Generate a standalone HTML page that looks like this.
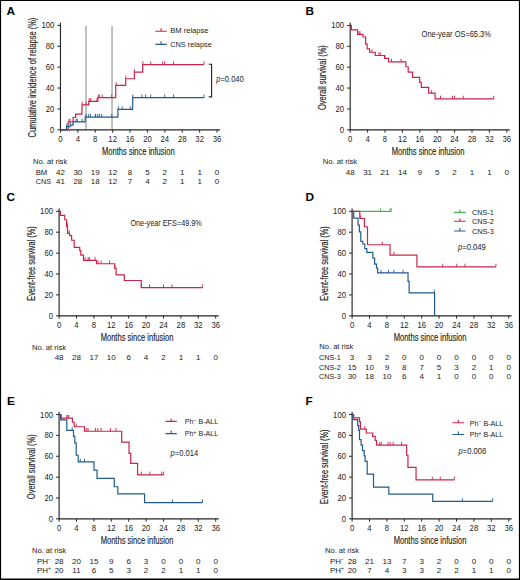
<!DOCTYPE html>
<html><head><meta charset="utf-8"><title>Figure</title>
<style>html,body{margin:0;padding:0;background:#fff;width:520px;height:580px;overflow:hidden;position:relative}</style>
</head><body>
<svg width="520" height="580" viewBox="0 0 520 580" style="position:absolute;left:0;top:0;font-family:'Liberation Sans', sans-serif" fill="#222222">
<rect x="0" y="0" width="520" height="580" fill="#fff"/>
<text x="6.6" y="14.9" font-size="11.8" font-weight="bold" fill="#000">A</text>
<text x="305.6" y="14.75" font-size="11.8" font-weight="bold" fill="#000">B</text>
<text x="6.6" y="200.8" font-size="11.8" font-weight="bold" fill="#000">C</text>
<text x="305.6" y="200.7" font-size="11.8" font-weight="bold" fill="#000">D</text>
<text x="7" y="405" font-size="11.8" font-weight="bold" fill="#000">E</text>
<text x="305.4" y="404.9" font-size="11.8" font-weight="bold" fill="#000">F</text>
<path d="M86.05 25.8V129.5M112.05 25.8V129.5" stroke="#b3b3b3" stroke-width="1.6" fill="none"/>
<path d="M60.45 22.65V129.85H220.05" fill="none" stroke="#262626" stroke-width="1.15"/>
<text x="54.35" y="132.8" font-size="8.5" text-anchor="end" textLength="4.3" lengthAdjust="spacingAndGlyphs">0</text>
<text x="54.35" y="111.9" font-size="8.5" text-anchor="end" textLength="8.6" lengthAdjust="spacingAndGlyphs">20</text>
<text x="54.35" y="91" font-size="8.5" text-anchor="end" textLength="8.6" lengthAdjust="spacingAndGlyphs">40</text>
<text x="54.35" y="70.1" font-size="8.5" text-anchor="end" textLength="8.6" lengthAdjust="spacingAndGlyphs">60</text>
<text x="54.35" y="49.2" font-size="8.5" text-anchor="end" textLength="8.6" lengthAdjust="spacingAndGlyphs">80</text>
<text x="54.35" y="28.3" font-size="8.5" text-anchor="end" textLength="12.9" lengthAdjust="spacingAndGlyphs">100</text>
<text x="60.45" y="142.05" font-size="8.5" text-anchor="middle" textLength="4.3" lengthAdjust="spacingAndGlyphs">0</text>
<text x="77.85" y="142.05" font-size="8.5" text-anchor="middle" textLength="4.3" lengthAdjust="spacingAndGlyphs">4</text>
<text x="95.25" y="142.05" font-size="8.5" text-anchor="middle" textLength="4.3" lengthAdjust="spacingAndGlyphs">8</text>
<text x="112.65" y="142.05" font-size="8.5" text-anchor="middle" textLength="8.6" lengthAdjust="spacingAndGlyphs">12</text>
<text x="130.05" y="142.05" font-size="8.5" text-anchor="middle" textLength="8.6" lengthAdjust="spacingAndGlyphs">16</text>
<text x="147.45" y="142.05" font-size="8.5" text-anchor="middle" textLength="8.6" lengthAdjust="spacingAndGlyphs">20</text>
<text x="164.85" y="142.05" font-size="8.5" text-anchor="middle" textLength="8.6" lengthAdjust="spacingAndGlyphs">24</text>
<text x="182.25" y="142.05" font-size="8.5" text-anchor="middle" textLength="8.6" lengthAdjust="spacingAndGlyphs">28</text>
<text x="199.65" y="142.05" font-size="8.5" text-anchor="middle" textLength="8.6" lengthAdjust="spacingAndGlyphs">32</text>
<text x="217.05" y="142.05" font-size="8.5" text-anchor="middle" textLength="8.6" lengthAdjust="spacingAndGlyphs">36</text>
<path d="M57.35 129.85H60.45M57.35 108.95H60.45M57.35 88.05H60.45M57.35 67.15H60.45M57.35 46.25H60.45M57.35 25.35H60.45M60.45 129.85V132.65M77.85 129.85V132.65M95.25 129.85V132.65M112.65 129.85V132.65M130.05 129.85V132.65M147.45 129.85V132.65M164.85 129.85V132.65M182.25 129.85V132.65M199.65 129.85V132.65M217.05 129.85V132.65" fill="none" stroke="#262626" stroke-width="1"/>
<text x="138.35" y="155.15" font-size="10.2" text-anchor="middle" textLength="72.7" lengthAdjust="spacingAndGlyphs" stroke="#222" stroke-width="0.15">Months since infusion</text>
<text transform="translate(36.25 77.6) rotate(-90)" x="0" y="0" font-size="10" stroke="#222" stroke-width="0.15" text-anchor="middle" textLength="119.8" lengthAdjust="spacingAndGlyphs">Cumulative incidence of relapse (%)</text>
<path d="M60.45 129.85H68.15V122.01H73.06V117.52H75.67V114.17H81.98V104.87H88.72V101.32H97.86V97.66H115.69V85.44H125.7V78.75H134.4V72.17H142.66V64.54H204" fill="none" stroke="#cd2349" stroke-width="1.2" stroke-linejoin="miter"/>
<path d="M68.93 122.01V118.81M70.02 122.01V118.81M75.46 117.52V114.32M82.2 104.87V101.67M85.9 104.87V101.67M89.16 101.32V98.12M90.47 101.32V98.12M96.99 101.32V98.12M98.29 97.66V94.46M99.6 97.66V94.46M102.21 97.66V94.46M111.78 97.66V94.46M116.13 85.44V82.24M125.7 78.75V75.55M134.4 72.17V68.97M142.88 64.54V61.34M150.76 64.54V61.34M162.68 64.54V61.34M164.63 64.54V61.34M173.55 64.54V61.34M204 64.54V61.34" fill="none" stroke="#cd2349" stroke-width="0.9"/>
<path d="M60.45 129.85H66.54V126.71H70.15V125.15H73.06V121.91H85.16V117.1H117.87V109.47H132.66V97.66H204" fill="none" stroke="#235a8f" stroke-width="1.2" stroke-linejoin="miter"/>
<path d="M66.76 126.71V123.51M70.24 125.15V121.95M76.11 121.91V118.71M77.42 121.91V118.71M82.2 121.91V118.71M86.12 117.1V113.9M88.72 117.1V113.9M90.47 117.1V113.9M95.25 117.1V113.9M95.69 117.1V113.9M97.86 117.1V113.9M99.6 117.1V113.9M101.78 117.1V113.9M111.78 117.1V113.9M118.31 109.47V106.27M122.22 109.47V106.27M130.27 109.47V106.27M132.88 97.66V94.46M142.01 97.66V94.46M145.58 97.66V94.46M150.76 97.66V94.46M164.63 97.66V94.46M173.55 97.66V94.46M204 97.66V94.46" fill="none" stroke="#235a8f" stroke-width="0.9"/>
<path d="M155.4 31.25H166.8M161.1 31.25V28.25" fill="none" stroke="#cd2349" stroke-width="1.1"/>
<text x="170.2" y="33.35" font-size="8" textLength="38.4" lengthAdjust="spacingAndGlyphs">BM relapse</text>
<path d="M155.4 44.35H166.8M161.1 44.35V41.35" fill="none" stroke="#235a8f" stroke-width="1.1"/>
<text x="170.2" y="46.85" font-size="8" textLength="41.6" lengthAdjust="spacingAndGlyphs">CNS relapse</text>
<path d="M208.7 64.3H211.6V96.9H208.7" fill="none" stroke="#222" stroke-width="1.1"/>
<text x="216.2" y="82" font-size="8.2" textLength="27.6" lengthAdjust="spacingAndGlyphs"><tspan font-style="italic">p</tspan>=0.040</text>
<text x="33" y="163.6" font-size="8" textLength="34.2" lengthAdjust="spacingAndGlyphs">No. at risk</text>
<text x="35.7" y="174.6" font-size="8" textLength="11.6" lengthAdjust="spacingAndGlyphs">BM</text>
<text x="35.7" y="183.6" font-size="8" textLength="15.3" lengthAdjust="spacingAndGlyphs">CNS</text>
<text x="60.45" y="174.6" font-size="8" text-anchor="middle">42</text>
<text x="77.85" y="174.6" font-size="8" text-anchor="middle">30</text>
<text x="95.25" y="174.6" font-size="8" text-anchor="middle">19</text>
<text x="112.65" y="174.6" font-size="8" text-anchor="middle">12</text>
<text x="130.05" y="174.6" font-size="8" text-anchor="middle">8</text>
<text x="147.45" y="174.6" font-size="8" text-anchor="middle">5</text>
<text x="164.85" y="174.6" font-size="8" text-anchor="middle">2</text>
<text x="182.25" y="174.6" font-size="8" text-anchor="middle">1</text>
<text x="199.65" y="174.6" font-size="8" text-anchor="middle">1</text>
<text x="217.05" y="174.6" font-size="8" text-anchor="middle">0</text>
<text x="60.45" y="183.6" font-size="8" text-anchor="middle">41</text>
<text x="77.85" y="183.6" font-size="8" text-anchor="middle">28</text>
<text x="95.25" y="183.6" font-size="8" text-anchor="middle">18</text>
<text x="112.65" y="183.6" font-size="8" text-anchor="middle">12</text>
<text x="130.05" y="183.6" font-size="8" text-anchor="middle">7</text>
<text x="147.45" y="183.6" font-size="8" text-anchor="middle">4</text>
<text x="164.85" y="183.6" font-size="8" text-anchor="middle">2</text>
<text x="182.25" y="183.6" font-size="8" text-anchor="middle">1</text>
<text x="199.65" y="183.6" font-size="8" text-anchor="middle">1</text>
<text x="217.05" y="183.6" font-size="8" text-anchor="middle">0</text>
<path d="M350.2 22.7V129.85H509.8" fill="none" stroke="#262626" stroke-width="1.15"/>
<text x="344.1" y="132.8" font-size="8.5" text-anchor="end" textLength="4.3" lengthAdjust="spacingAndGlyphs">0</text>
<text x="344.1" y="111.91" font-size="8.5" text-anchor="end" textLength="8.6" lengthAdjust="spacingAndGlyphs">20</text>
<text x="344.1" y="91.02" font-size="8.5" text-anchor="end" textLength="8.6" lengthAdjust="spacingAndGlyphs">40</text>
<text x="344.1" y="70.13" font-size="8.5" text-anchor="end" textLength="8.6" lengthAdjust="spacingAndGlyphs">60</text>
<text x="344.1" y="49.24" font-size="8.5" text-anchor="end" textLength="8.6" lengthAdjust="spacingAndGlyphs">80</text>
<text x="344.1" y="28.35" font-size="8.5" text-anchor="end" textLength="12.9" lengthAdjust="spacingAndGlyphs">100</text>
<text x="350.2" y="142.05" font-size="8.5" text-anchor="middle" textLength="4.3" lengthAdjust="spacingAndGlyphs">0</text>
<text x="367.6" y="142.05" font-size="8.5" text-anchor="middle" textLength="4.3" lengthAdjust="spacingAndGlyphs">4</text>
<text x="385" y="142.05" font-size="8.5" text-anchor="middle" textLength="4.3" lengthAdjust="spacingAndGlyphs">8</text>
<text x="402.4" y="142.05" font-size="8.5" text-anchor="middle" textLength="8.6" lengthAdjust="spacingAndGlyphs">12</text>
<text x="419.8" y="142.05" font-size="8.5" text-anchor="middle" textLength="8.6" lengthAdjust="spacingAndGlyphs">16</text>
<text x="437.2" y="142.05" font-size="8.5" text-anchor="middle" textLength="8.6" lengthAdjust="spacingAndGlyphs">20</text>
<text x="454.6" y="142.05" font-size="8.5" text-anchor="middle" textLength="8.6" lengthAdjust="spacingAndGlyphs">24</text>
<text x="472" y="142.05" font-size="8.5" text-anchor="middle" textLength="8.6" lengthAdjust="spacingAndGlyphs">28</text>
<text x="489.4" y="142.05" font-size="8.5" text-anchor="middle" textLength="8.6" lengthAdjust="spacingAndGlyphs">32</text>
<text x="506.8" y="142.05" font-size="8.5" text-anchor="middle" textLength="8.6" lengthAdjust="spacingAndGlyphs">36</text>
<path d="M347.1 129.85H350.2M347.1 108.96H350.2M347.1 88.07H350.2M347.1 67.18H350.2M347.1 46.29H350.2M347.1 25.4H350.2M350.2 129.85V132.65M367.6 129.85V132.65M385 129.85V132.65M402.4 129.85V132.65M419.8 129.85V132.65M437.2 129.85V132.65M454.6 129.85V132.65M472 129.85V132.65M489.4 129.85V132.65M506.8 129.85V132.65" fill="none" stroke="#262626" stroke-width="1"/>
<text x="428.1" y="155.15" font-size="10.2" text-anchor="middle" textLength="72.7" lengthAdjust="spacingAndGlyphs" stroke="#222" stroke-width="0.15">Months since infusion</text>
<text transform="translate(326 77.62) rotate(-90)" x="0" y="0" font-size="10" stroke="#222" stroke-width="0.15" text-anchor="middle" textLength="64.9" lengthAdjust="spacingAndGlyphs">Overall survival (%)</text>
<path d="M350.2 25.4H351.37V29.79H357.55V34.38H362.95V36.99H365.64V44.1H367.16V48.9H369.56V52.24H375.26V55.48H384.48V58.41H388.57V61.96H405.88V66.76H408.19V72.09H412.58V77.31H419.71V82.43H421.28V87.44H428.59V93.19H435.11V98.93H493.75" fill="none" stroke="#cd2349" stroke-width="1.2" stroke-linejoin="miter"/>
<path d="M358.9 34.38V31.18M359.99 34.38V31.18M371.95 52.24V49.04M378.91 55.48V52.28M380.21 55.48V52.28M385 58.41V55.21M391.52 61.96V58.76M401.09 61.96V58.76M431.33 93.19V89.99M440.51 98.93V95.73M452.42 98.93V95.73M454.51 98.93V95.73M463.3 98.93V95.73M493.75 98.93V95.73" fill="none" stroke="#cd2349" stroke-width="0.9"/>
<text x="421.6" y="37.3" font-size="8.2" textLength="69.2" lengthAdjust="spacingAndGlyphs">One-year OS=65.3%</text>
<text x="322.8" y="163.7" font-size="8" textLength="34.2" lengthAdjust="spacingAndGlyphs">No. at risk</text>
<text x="350.2" y="174.8" font-size="8" text-anchor="middle">48</text>
<text x="367.6" y="174.8" font-size="8" text-anchor="middle">31</text>
<text x="385" y="174.8" font-size="8" text-anchor="middle">21</text>
<text x="402.4" y="174.8" font-size="8" text-anchor="middle">14</text>
<text x="419.8" y="174.8" font-size="8" text-anchor="middle">9</text>
<text x="437.2" y="174.8" font-size="8" text-anchor="middle">5</text>
<text x="454.6" y="174.8" font-size="8" text-anchor="middle">2</text>
<text x="472" y="174.8" font-size="8" text-anchor="middle">1</text>
<text x="489.4" y="174.8" font-size="8" text-anchor="middle">1</text>
<text x="506.8" y="174.8" font-size="8" text-anchor="middle">0</text>
<path d="M59.1 208.6V315.8H218.7" fill="none" stroke="#262626" stroke-width="1.15"/>
<text x="53" y="318.75" font-size="8.5" text-anchor="end" textLength="4.3" lengthAdjust="spacingAndGlyphs">0</text>
<text x="53" y="297.85" font-size="8.5" text-anchor="end" textLength="8.6" lengthAdjust="spacingAndGlyphs">20</text>
<text x="53" y="276.95" font-size="8.5" text-anchor="end" textLength="8.6" lengthAdjust="spacingAndGlyphs">40</text>
<text x="53" y="256.05" font-size="8.5" text-anchor="end" textLength="8.6" lengthAdjust="spacingAndGlyphs">60</text>
<text x="53" y="235.15" font-size="8.5" text-anchor="end" textLength="8.6" lengthAdjust="spacingAndGlyphs">80</text>
<text x="53" y="214.25" font-size="8.5" text-anchor="end" textLength="12.9" lengthAdjust="spacingAndGlyphs">100</text>
<text x="59.1" y="328" font-size="8.5" text-anchor="middle" textLength="4.3" lengthAdjust="spacingAndGlyphs">0</text>
<text x="76.5" y="328" font-size="8.5" text-anchor="middle" textLength="4.3" lengthAdjust="spacingAndGlyphs">4</text>
<text x="93.9" y="328" font-size="8.5" text-anchor="middle" textLength="4.3" lengthAdjust="spacingAndGlyphs">8</text>
<text x="111.3" y="328" font-size="8.5" text-anchor="middle" textLength="8.6" lengthAdjust="spacingAndGlyphs">12</text>
<text x="128.7" y="328" font-size="8.5" text-anchor="middle" textLength="8.6" lengthAdjust="spacingAndGlyphs">16</text>
<text x="146.1" y="328" font-size="8.5" text-anchor="middle" textLength="8.6" lengthAdjust="spacingAndGlyphs">20</text>
<text x="163.5" y="328" font-size="8.5" text-anchor="middle" textLength="8.6" lengthAdjust="spacingAndGlyphs">24</text>
<text x="180.9" y="328" font-size="8.5" text-anchor="middle" textLength="8.6" lengthAdjust="spacingAndGlyphs">28</text>
<text x="198.3" y="328" font-size="8.5" text-anchor="middle" textLength="8.6" lengthAdjust="spacingAndGlyphs">32</text>
<text x="215.7" y="328" font-size="8.5" text-anchor="middle" textLength="8.6" lengthAdjust="spacingAndGlyphs">36</text>
<path d="M56 315.8H59.1M56 294.9H59.1M56 274H59.1M56 253.1H59.1M56 232.2H59.1M56 211.3H59.1M59.1 315.8V318.6M76.5 315.8V318.6M93.9 315.8V318.6M111.3 315.8V318.6M128.7 315.8V318.6M146.1 315.8V318.6M163.5 315.8V318.6M180.9 315.8V318.6M198.3 315.8V318.6M215.7 315.8V318.6" fill="none" stroke="#262626" stroke-width="1"/>
<text x="137" y="341.1" font-size="10.2" text-anchor="middle" textLength="72.7" lengthAdjust="spacingAndGlyphs" stroke="#222" stroke-width="0.15">Months since infusion</text>
<text transform="translate(34.9 263.55) rotate(-90)" x="0" y="0" font-size="10" stroke="#222" stroke-width="0.15" text-anchor="middle" textLength="74.4" lengthAdjust="spacingAndGlyphs">Event-free survival (%)</text>
<path d="M59.1 211.3H60.41V215.38H64.71V219.76H66.63V226.35H67.5V233.35H69.63V235.65H71.63V240.25H74.19V247.46H79.72V250.59H80.81V255.19H83.5V260.42H96.51V263.76H114.74V268.46H116.08V274.94H124.26V280.48H141.31V287.59H202.65" fill="none" stroke="#cd2349" stroke-width="1.2" stroke-linejoin="miter"/>
<path d="M67.36 226.35V223.15M69.11 233.35V230.15M85.11 260.42V257.22M88.11 260.42V257.22M89.55 260.42V257.22M95.12 260.42V257.22M98.12 263.76V260.56M101.12 263.76V260.56M109.56 263.76V260.56M114.78 268.46V265.26M141.31 287.59V284.39M149.58 287.59V284.39M163.5 287.59V284.39M171.98 287.59V284.39M202.65 287.59V284.39" fill="none" stroke="#cd2349" stroke-width="0.9"/>
<text x="130.4" y="225.5" font-size="8.2" textLength="71.4" lengthAdjust="spacingAndGlyphs">One-year EFS=49.9%</text>
<text x="32" y="349.6" font-size="8" textLength="34" lengthAdjust="spacingAndGlyphs">No. at risk</text>
<text x="59.1" y="360.4" font-size="8" text-anchor="middle">48</text>
<text x="76.5" y="360.4" font-size="8" text-anchor="middle">28</text>
<text x="93.9" y="360.4" font-size="8" text-anchor="middle">17</text>
<text x="111.3" y="360.4" font-size="8" text-anchor="middle">10</text>
<text x="128.7" y="360.4" font-size="8" text-anchor="middle">6</text>
<text x="146.1" y="360.4" font-size="8" text-anchor="middle">4</text>
<text x="163.5" y="360.4" font-size="8" text-anchor="middle">2</text>
<text x="180.9" y="360.4" font-size="8" text-anchor="middle">1</text>
<text x="198.3" y="360.4" font-size="8" text-anchor="middle">1</text>
<text x="215.7" y="360.4" font-size="8" text-anchor="middle">0</text>
<path d="M352.1 208.6V315.8H511.7" fill="none" stroke="#262626" stroke-width="1.15"/>
<text x="346" y="318.75" font-size="8.5" text-anchor="end" textLength="4.3" lengthAdjust="spacingAndGlyphs">0</text>
<text x="346" y="297.85" font-size="8.5" text-anchor="end" textLength="8.6" lengthAdjust="spacingAndGlyphs">20</text>
<text x="346" y="276.95" font-size="8.5" text-anchor="end" textLength="8.6" lengthAdjust="spacingAndGlyphs">40</text>
<text x="346" y="256.05" font-size="8.5" text-anchor="end" textLength="8.6" lengthAdjust="spacingAndGlyphs">60</text>
<text x="346" y="235.15" font-size="8.5" text-anchor="end" textLength="8.6" lengthAdjust="spacingAndGlyphs">80</text>
<text x="346" y="214.25" font-size="8.5" text-anchor="end" textLength="12.9" lengthAdjust="spacingAndGlyphs">100</text>
<text x="352.1" y="328" font-size="8.5" text-anchor="middle" textLength="4.3" lengthAdjust="spacingAndGlyphs">0</text>
<text x="369.5" y="328" font-size="8.5" text-anchor="middle" textLength="4.3" lengthAdjust="spacingAndGlyphs">4</text>
<text x="386.9" y="328" font-size="8.5" text-anchor="middle" textLength="4.3" lengthAdjust="spacingAndGlyphs">8</text>
<text x="404.3" y="328" font-size="8.5" text-anchor="middle" textLength="8.6" lengthAdjust="spacingAndGlyphs">12</text>
<text x="421.7" y="328" font-size="8.5" text-anchor="middle" textLength="8.6" lengthAdjust="spacingAndGlyphs">16</text>
<text x="439.1" y="328" font-size="8.5" text-anchor="middle" textLength="8.6" lengthAdjust="spacingAndGlyphs">20</text>
<text x="456.5" y="328" font-size="8.5" text-anchor="middle" textLength="8.6" lengthAdjust="spacingAndGlyphs">24</text>
<text x="473.9" y="328" font-size="8.5" text-anchor="middle" textLength="8.6" lengthAdjust="spacingAndGlyphs">28</text>
<text x="491.3" y="328" font-size="8.5" text-anchor="middle" textLength="8.6" lengthAdjust="spacingAndGlyphs">32</text>
<text x="508.7" y="328" font-size="8.5" text-anchor="middle" textLength="8.6" lengthAdjust="spacingAndGlyphs">36</text>
<path d="M349 315.8H352.1M349 294.9H352.1M349 274H352.1M349 253.1H352.1M349 232.2H352.1M349 211.3H352.1M352.1 315.8V318.6M369.5 315.8V318.6M386.9 315.8V318.6M404.3 315.8V318.6M421.7 315.8V318.6M439.1 315.8V318.6M456.5 315.8V318.6M473.9 315.8V318.6M491.3 315.8V318.6M508.7 315.8V318.6" fill="none" stroke="#262626" stroke-width="1"/>
<text x="430" y="341.1" font-size="10.2" text-anchor="middle" textLength="72.7" lengthAdjust="spacingAndGlyphs" stroke="#222" stroke-width="0.15">Months since infusion</text>
<text transform="translate(327.9 263.55) rotate(-90)" x="0" y="0" font-size="10" stroke="#222" stroke-width="0.15" text-anchor="middle" textLength="74.4" lengthAdjust="spacingAndGlyphs">Event-free survival (%)</text>
<path d="M352.1 211.3H391.25" fill="none" stroke="#3eb84c" stroke-width="1.2" stroke-linejoin="miter"/>
<path d="M380.38 211.3V208.1M390.16 211.3V208.1M391.25 211.3V208.1" fill="none" stroke="#3eb84c" stroke-width="0.9"/>
<path d="M352.1 211.3H359.8V218.51H364.41V226.77H367.5V244.74H390.03V255.09H416.92V266.89H495.91" fill="none" stroke="#cd2349" stroke-width="1.2" stroke-linejoin="miter"/>
<path d="M360.8 218.51V215.31M382.33 244.74V241.54M393.86 255.09V251.89M442.75 266.89V263.69M456.76 266.89V263.69M464.98 266.89V263.69M495.91 266.89V263.69" fill="none" stroke="#cd2349" stroke-width="0.9"/>
<path d="M352.1 211.3H353.71V218.2H358.1V225.2H359.41V231.89H360.8V241.29H362.8V244.01H364.8V248.71H366.8V252.37H372.89V258.22H374.63V264.18H376.5V268.25H377.63V272.96H408.04V281.31H409.09V292.91H434.58V315.8H434.58" fill="none" stroke="#235a8f" stroke-width="1.2" stroke-linejoin="miter"/>
<path d="M381.03 272.96V269.76M388.42 272.96V269.76M393.86 272.96V269.76M403 272.96V269.76M434.31 292.91V289.71" fill="none" stroke="#235a8f" stroke-width="0.9"/>
<path d="M454.1 212.4H465.6M459.85 212.4V209.4" fill="none" stroke="#3eb84c" stroke-width="1.1"/>
<text x="471.9" y="215.1" font-size="7.7" textLength="21.9" lengthAdjust="spacingAndGlyphs">CNS-1</text>
<path d="M454.1 221.3H465.6M459.85 221.3V218.3" fill="none" stroke="#cd2349" stroke-width="1.1"/>
<text x="471.9" y="224" font-size="7.7" textLength="21.9" lengthAdjust="spacingAndGlyphs">CNS-2</text>
<path d="M454.1 231H465.6M459.85 231V228" fill="none" stroke="#235a8f" stroke-width="1.1"/>
<text x="471.9" y="233.7" font-size="7.7" textLength="21.9" lengthAdjust="spacingAndGlyphs">CNS-3</text>
<text x="457.9" y="250.3" font-size="8.2" textLength="28" lengthAdjust="spacingAndGlyphs"><tspan font-style="italic">p</tspan>=0.049</text>
<text x="319.3" y="349.4" font-size="8" textLength="34" lengthAdjust="spacingAndGlyphs">No. at risk</text>
<text x="319.1" y="360.2" font-size="8" textLength="21.6" lengthAdjust="spacingAndGlyphs">CNS-1</text>
<text x="352.1" y="360.2" font-size="8" text-anchor="middle">3</text>
<text x="369.5" y="360.2" font-size="8" text-anchor="middle">3</text>
<text x="386.9" y="360.2" font-size="8" text-anchor="middle">2</text>
<text x="404.3" y="360.2" font-size="8" text-anchor="middle">0</text>
<text x="421.7" y="360.2" font-size="8" text-anchor="middle">0</text>
<text x="439.1" y="360.2" font-size="8" text-anchor="middle">0</text>
<text x="456.5" y="360.2" font-size="8" text-anchor="middle">0</text>
<text x="473.9" y="360.2" font-size="8" text-anchor="middle">0</text>
<text x="491.3" y="360.2" font-size="8" text-anchor="middle">0</text>
<text x="508.7" y="360.2" font-size="8" text-anchor="middle">0</text>
<text x="319.1" y="369.7" font-size="8" textLength="21.6" lengthAdjust="spacingAndGlyphs">CNS-2</text>
<text x="352.1" y="369.7" font-size="8" text-anchor="middle">15</text>
<text x="369.5" y="369.7" font-size="8" text-anchor="middle">10</text>
<text x="386.9" y="369.7" font-size="8" text-anchor="middle">9</text>
<text x="404.3" y="369.7" font-size="8" text-anchor="middle">8</text>
<text x="421.7" y="369.7" font-size="8" text-anchor="middle">7</text>
<text x="439.1" y="369.7" font-size="8" text-anchor="middle">5</text>
<text x="456.5" y="369.7" font-size="8" text-anchor="middle">3</text>
<text x="473.9" y="369.7" font-size="8" text-anchor="middle">2</text>
<text x="491.3" y="369.7" font-size="8" text-anchor="middle">1</text>
<text x="508.7" y="369.7" font-size="8" text-anchor="middle">0</text>
<text x="319.1" y="379.2" font-size="8" textLength="21.6" lengthAdjust="spacingAndGlyphs">CNS-3</text>
<text x="352.1" y="379.2" font-size="8" text-anchor="middle">30</text>
<text x="369.5" y="379.2" font-size="8" text-anchor="middle">18</text>
<text x="386.9" y="379.2" font-size="8" text-anchor="middle">10</text>
<text x="404.3" y="379.2" font-size="8" text-anchor="middle">6</text>
<text x="421.7" y="379.2" font-size="8" text-anchor="middle">4</text>
<text x="439.1" y="379.2" font-size="8" text-anchor="middle">1</text>
<text x="456.5" y="379.2" font-size="8" text-anchor="middle">0</text>
<text x="473.9" y="379.2" font-size="8" text-anchor="middle">0</text>
<text x="491.3" y="379.2" font-size="8" text-anchor="middle">0</text>
<text x="508.7" y="379.2" font-size="8" text-anchor="middle">0</text>
<path d="M59.1 411.85V518.85H218.7" fill="none" stroke="#262626" stroke-width="1.15"/>
<text x="53" y="521.8" font-size="8.5" text-anchor="end" textLength="4.3" lengthAdjust="spacingAndGlyphs">0</text>
<text x="53" y="500.94" font-size="8.5" text-anchor="end" textLength="8.6" lengthAdjust="spacingAndGlyphs">20</text>
<text x="53" y="480.08" font-size="8.5" text-anchor="end" textLength="8.6" lengthAdjust="spacingAndGlyphs">40</text>
<text x="53" y="459.22" font-size="8.5" text-anchor="end" textLength="8.6" lengthAdjust="spacingAndGlyphs">60</text>
<text x="53" y="438.36" font-size="8.5" text-anchor="end" textLength="8.6" lengthAdjust="spacingAndGlyphs">80</text>
<text x="53" y="417.5" font-size="8.5" text-anchor="end" textLength="12.9" lengthAdjust="spacingAndGlyphs">100</text>
<text x="59.1" y="531.05" font-size="8.5" text-anchor="middle" textLength="4.3" lengthAdjust="spacingAndGlyphs">0</text>
<text x="76.5" y="531.05" font-size="8.5" text-anchor="middle" textLength="4.3" lengthAdjust="spacingAndGlyphs">4</text>
<text x="93.9" y="531.05" font-size="8.5" text-anchor="middle" textLength="4.3" lengthAdjust="spacingAndGlyphs">8</text>
<text x="111.3" y="531.05" font-size="8.5" text-anchor="middle" textLength="8.6" lengthAdjust="spacingAndGlyphs">12</text>
<text x="128.7" y="531.05" font-size="8.5" text-anchor="middle" textLength="8.6" lengthAdjust="spacingAndGlyphs">16</text>
<text x="146.1" y="531.05" font-size="8.5" text-anchor="middle" textLength="8.6" lengthAdjust="spacingAndGlyphs">20</text>
<text x="163.5" y="531.05" font-size="8.5" text-anchor="middle" textLength="8.6" lengthAdjust="spacingAndGlyphs">24</text>
<text x="180.9" y="531.05" font-size="8.5" text-anchor="middle" textLength="8.6" lengthAdjust="spacingAndGlyphs">28</text>
<text x="198.3" y="531.05" font-size="8.5" text-anchor="middle" textLength="8.6" lengthAdjust="spacingAndGlyphs">32</text>
<text x="215.7" y="531.05" font-size="8.5" text-anchor="middle" textLength="8.6" lengthAdjust="spacingAndGlyphs">36</text>
<path d="M56 518.85H59.1M56 497.99H59.1M56 477.13H59.1M56 456.27H59.1M56 435.41H59.1M56 414.55H59.1M59.1 518.85V521.65M76.5 518.85V521.65M93.9 518.85V521.65M111.3 518.85V521.65M128.7 518.85V521.65M146.1 518.85V521.65M163.5 518.85V521.65M180.9 518.85V521.65M198.3 518.85V521.65M215.7 518.85V521.65" fill="none" stroke="#262626" stroke-width="1"/>
<text x="137" y="544.15" font-size="10.2" text-anchor="middle" textLength="72.7" lengthAdjust="spacingAndGlyphs" stroke="#222" stroke-width="0.15">Months since infusion</text>
<text transform="translate(34.9 466.7) rotate(-90)" x="0" y="0" font-size="10" stroke="#222" stroke-width="0.15" text-anchor="middle" textLength="64.9" lengthAdjust="spacingAndGlyphs">Overall survival (%)</text>
<path d="M59.1 414.55H61.1V418.2H72.41V422.27H74.19V426.75H84.5V431.24H121.65V442.19H129.05V453.35H130.74V463.47H137.57V474.84H163.59" fill="none" stroke="#cd2349" stroke-width="1.2" stroke-linejoin="miter"/>
<path d="M66.8 418.2V415M67.8 418.2V415M68.8 418.2V415M76.2 426.75V423.55M86.33 431.24V428.04M88.03 431.24V428.04M95.42 431.24V428.04M97.73 431.24V428.04M101.12 431.24V428.04M110.43 431.24V428.04M115.95 431.24V428.04M141.31 474.84V471.64M149.88 474.84V471.64M161.76 474.84V471.64M163.59 474.84V471.64" fill="none" stroke="#cd2349" stroke-width="0.9"/>
<path d="M59.1 414.55H60.71V419.97H66.8V430.3H73.5V436.45H74.8V442.82H76.2V455.23H78.2V461.9H94.03V470.04H97.03V478.28H114.26V486.73H117.82V493.92H144.58V502.58H202.52" fill="none" stroke="#235a8f" stroke-width="1.2" stroke-linejoin="miter"/>
<path d="M72.15 430.3V427.1M80.24 461.9V458.7M84.5 461.9V458.7M172.46 502.58V499.38M202.52 502.58V499.38" fill="none" stroke="#235a8f" stroke-width="0.9"/>
<path d="M165.5 421.4H176.8M171.15 421.4V418.4" fill="none" stroke="#cd2349" stroke-width="1.1"/>
<text x="184.7" y="424.1" font-size="7.4" textLength="33.4" lengthAdjust="spacingAndGlyphs">Ph<tspan font-size="5.6" dy="-2.4">−</tspan><tspan dy="2.4"> B-ALL</tspan></text>
<path d="M165.5 433.6H176.8M171.15 433.6V430.6" fill="none" stroke="#235a8f" stroke-width="1.1"/>
<text x="184.7" y="436.3" font-size="7.4" textLength="33.4" lengthAdjust="spacingAndGlyphs">Ph<tspan font-size="5.6" dy="-2.4">+</tspan><tspan dy="2.4"> B-ALL</tspan></text>
<text x="170.6" y="455.85" font-size="8.2" textLength="27.6" lengthAdjust="spacingAndGlyphs"><tspan font-style="italic">p</tspan>=0.014</text>
<text x="32" y="552.6" font-size="8" textLength="34" lengthAdjust="spacingAndGlyphs">No. at risk</text>
<text x="36.9" y="563.5" font-size="8">PH<tspan font-size="5" dy="-2.9">−</tspan></text>
<text x="59.1" y="563.5" font-size="8" text-anchor="middle">28</text>
<text x="76.5" y="563.5" font-size="8" text-anchor="middle">20</text>
<text x="93.9" y="563.5" font-size="8" text-anchor="middle">15</text>
<text x="111.3" y="563.5" font-size="8" text-anchor="middle">9</text>
<text x="128.7" y="563.5" font-size="8" text-anchor="middle">6</text>
<text x="146.1" y="563.5" font-size="8" text-anchor="middle">3</text>
<text x="163.5" y="563.5" font-size="8" text-anchor="middle">0</text>
<text x="180.9" y="563.5" font-size="8" text-anchor="middle">0</text>
<text x="198.3" y="563.5" font-size="8" text-anchor="middle">0</text>
<text x="215.7" y="563.5" font-size="8" text-anchor="middle">0</text>
<text x="36.9" y="573" font-size="8">PH<tspan font-size="5" dy="-2.9">+</tspan></text>
<text x="59.1" y="573" font-size="8" text-anchor="middle">20</text>
<text x="76.5" y="573" font-size="8" text-anchor="middle">11</text>
<text x="93.9" y="573" font-size="8" text-anchor="middle">6</text>
<text x="111.3" y="573" font-size="8" text-anchor="middle">5</text>
<text x="128.7" y="573" font-size="8" text-anchor="middle">3</text>
<text x="146.1" y="573" font-size="8" text-anchor="middle">2</text>
<text x="163.5" y="573" font-size="8" text-anchor="middle">2</text>
<text x="180.9" y="573" font-size="8" text-anchor="middle">1</text>
<text x="198.3" y="573" font-size="8" text-anchor="middle">1</text>
<text x="215.7" y="573" font-size="8" text-anchor="middle">0</text>
<path d="M352.1 411.85V518.85H511.7" fill="none" stroke="#262626" stroke-width="1.15"/>
<text x="346" y="521.8" font-size="8.5" text-anchor="end" textLength="4.3" lengthAdjust="spacingAndGlyphs">0</text>
<text x="346" y="500.94" font-size="8.5" text-anchor="end" textLength="8.6" lengthAdjust="spacingAndGlyphs">20</text>
<text x="346" y="480.08" font-size="8.5" text-anchor="end" textLength="8.6" lengthAdjust="spacingAndGlyphs">40</text>
<text x="346" y="459.22" font-size="8.5" text-anchor="end" textLength="8.6" lengthAdjust="spacingAndGlyphs">60</text>
<text x="346" y="438.36" font-size="8.5" text-anchor="end" textLength="8.6" lengthAdjust="spacingAndGlyphs">80</text>
<text x="346" y="417.5" font-size="8.5" text-anchor="end" textLength="12.9" lengthAdjust="spacingAndGlyphs">100</text>
<text x="352.1" y="531.05" font-size="8.5" text-anchor="middle" textLength="4.3" lengthAdjust="spacingAndGlyphs">0</text>
<text x="369.5" y="531.05" font-size="8.5" text-anchor="middle" textLength="4.3" lengthAdjust="spacingAndGlyphs">4</text>
<text x="386.9" y="531.05" font-size="8.5" text-anchor="middle" textLength="4.3" lengthAdjust="spacingAndGlyphs">8</text>
<text x="404.3" y="531.05" font-size="8.5" text-anchor="middle" textLength="8.6" lengthAdjust="spacingAndGlyphs">12</text>
<text x="421.7" y="531.05" font-size="8.5" text-anchor="middle" textLength="8.6" lengthAdjust="spacingAndGlyphs">16</text>
<text x="439.1" y="531.05" font-size="8.5" text-anchor="middle" textLength="8.6" lengthAdjust="spacingAndGlyphs">20</text>
<text x="456.5" y="531.05" font-size="8.5" text-anchor="middle" textLength="8.6" lengthAdjust="spacingAndGlyphs">24</text>
<text x="473.9" y="531.05" font-size="8.5" text-anchor="middle" textLength="8.6" lengthAdjust="spacingAndGlyphs">28</text>
<text x="491.3" y="531.05" font-size="8.5" text-anchor="middle" textLength="8.6" lengthAdjust="spacingAndGlyphs">32</text>
<text x="508.7" y="531.05" font-size="8.5" text-anchor="middle" textLength="8.6" lengthAdjust="spacingAndGlyphs">36</text>
<path d="M349 518.85H352.1M349 497.99H352.1M349 477.13H352.1M349 456.27H352.1M349 435.41H352.1M349 414.55H352.1M352.1 518.85V521.65M369.5 518.85V521.65M386.9 518.85V521.65M404.3 518.85V521.65M421.7 518.85V521.65M439.1 518.85V521.65M456.5 518.85V521.65M473.9 518.85V521.65M491.3 518.85V521.65M508.7 518.85V521.65" fill="none" stroke="#262626" stroke-width="1"/>
<text x="430" y="544.15" font-size="10.2" text-anchor="middle" textLength="72.7" lengthAdjust="spacingAndGlyphs" stroke="#222" stroke-width="0.15">Months since infusion</text>
<text transform="translate(327.9 466.7) rotate(-90)" x="0" y="0" font-size="10" stroke="#222" stroke-width="0.15" text-anchor="middle" textLength="74.4" lengthAdjust="spacingAndGlyphs">Event-free survival (%)</text>
<path d="M352.1 414.55H353.71V417.89H359.5V421.64H360.41V429.05H366.19V433.01H372.63V436.45H375.2V440.42H376.63V445.11H406.65V455.23H407.95V467.33H416.05V479.84H454.33" fill="none" stroke="#cd2349" stroke-width="1.2" stroke-linejoin="miter"/>
<path d="M364.89 429.05V425.85M372.63 436.45V433.25M379.72 445.11V441.91M381.25 445.11V441.91M388.03 445.11V441.91M390.08 445.11V441.91M393.12 445.11V441.91M401.56 445.11V441.91M432.27 479.84V476.64M440.27 479.84V476.64M454.33 479.84V476.64" fill="none" stroke="#cd2349" stroke-width="0.9"/>
<path d="M352.1 414.55H352.97V419.56H357.71V425.61H358.71V430.3H359.5V439.69H361.1V445.11H362.5V450.53H364.19V455.85H365.15V461.28H367.19V474.11H373.5V487.14H388.81V494.13H432.75V501.43H492.61" fill="none" stroke="#235a8f" stroke-width="1.2" stroke-linejoin="miter"/>
<path d="M462.37 501.43V498.23M492.61 501.43V498.23" fill="none" stroke="#235a8f" stroke-width="0.9"/>
<path d="M452.4 422.8H464.2M458.3 422.8V419.8" fill="none" stroke="#cd2349" stroke-width="1.1"/>
<text x="469.7" y="425.5" font-size="7.4" textLength="33.4" lengthAdjust="spacingAndGlyphs">Ph<tspan font-size="5.6" dy="-2.4">−</tspan><tspan dy="2.4"> B-ALL</tspan></text>
<path d="M452.4 434.5H464.2M458.3 434.5V431.5" fill="none" stroke="#235a8f" stroke-width="1.1"/>
<text x="469.7" y="437.2" font-size="7.4" textLength="33.4" lengthAdjust="spacingAndGlyphs">Ph<tspan font-size="5.6" dy="-2.4">+</tspan><tspan dy="2.4"> B-ALL</tspan></text>
<text x="458.6" y="453.85" font-size="8.2" textLength="27.6" lengthAdjust="spacingAndGlyphs"><tspan font-style="italic">p</tspan>=0.008</text>
<text x="325" y="552.6" font-size="8" textLength="34" lengthAdjust="spacingAndGlyphs">No. at risk</text>
<text x="329.9" y="563.5" font-size="8">PH<tspan font-size="5" dy="-2.9">−</tspan></text>
<text x="352.1" y="563.5" font-size="8" text-anchor="middle">28</text>
<text x="369.5" y="563.5" font-size="8" text-anchor="middle">21</text>
<text x="386.9" y="563.5" font-size="8" text-anchor="middle">13</text>
<text x="404.3" y="563.5" font-size="8" text-anchor="middle">7</text>
<text x="421.7" y="563.5" font-size="8" text-anchor="middle">3</text>
<text x="439.1" y="563.5" font-size="8" text-anchor="middle">2</text>
<text x="456.5" y="563.5" font-size="8" text-anchor="middle">0</text>
<text x="473.9" y="563.5" font-size="8" text-anchor="middle">0</text>
<text x="491.3" y="563.5" font-size="8" text-anchor="middle">0</text>
<text x="508.7" y="563.5" font-size="8" text-anchor="middle">0</text>
<text x="329.9" y="573" font-size="8">PH<tspan font-size="5" dy="-2.9">+</tspan></text>
<text x="352.1" y="573" font-size="8" text-anchor="middle">20</text>
<text x="369.5" y="573" font-size="8" text-anchor="middle">7</text>
<text x="386.9" y="573" font-size="8" text-anchor="middle">4</text>
<text x="404.3" y="573" font-size="8" text-anchor="middle">3</text>
<text x="421.7" y="573" font-size="8" text-anchor="middle">3</text>
<text x="439.1" y="573" font-size="8" text-anchor="middle">2</text>
<text x="456.5" y="573" font-size="8" text-anchor="middle">2</text>
<text x="473.9" y="573" font-size="8" text-anchor="middle">1</text>
<text x="491.3" y="573" font-size="8" text-anchor="middle">1</text>
<text x="508.7" y="573" font-size="8" text-anchor="middle">0</text>
<path d="M0 0H520V1.05H0ZM0 0H1.1V580H0ZM518.9 0H520V580H518.9ZM0 578.4H520V580H0Z" fill="#000"/>
</svg>
</body></html>
